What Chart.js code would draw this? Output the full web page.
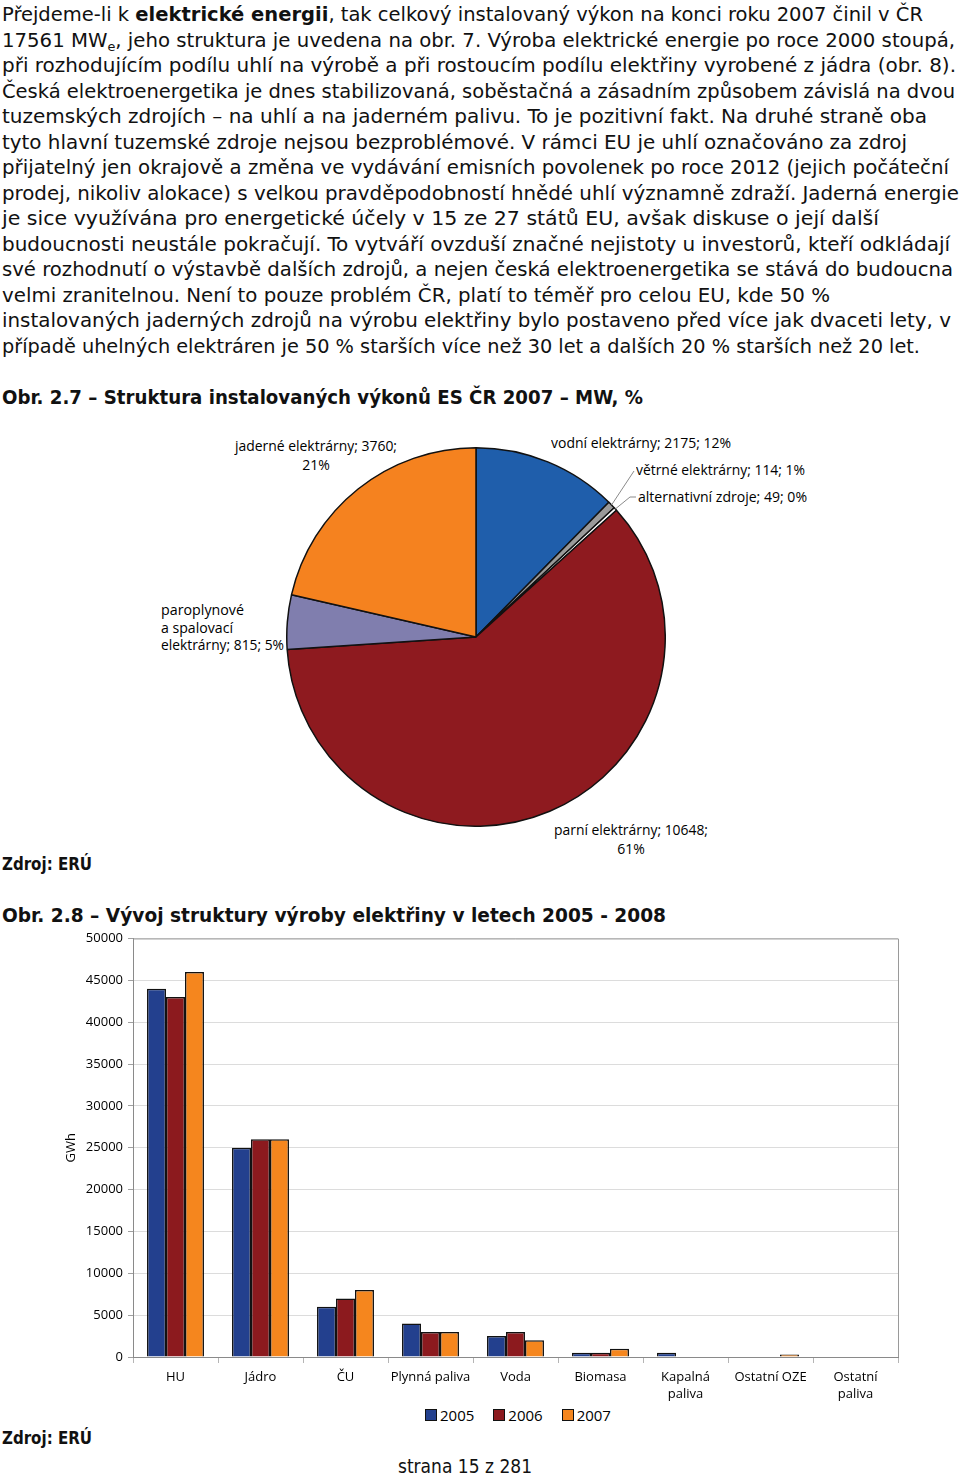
<!DOCTYPE html>
<html><head><meta charset="utf-8">
<script src="https://cdn.jsdelivr.net/npm/chart.js@4.4.1/dist/chart.umd.min.js"></script>
<style>
html,body{margin:0;padding:0;background:#fff;}
body{width:960px;height:1475px;position:relative;overflow:hidden;font-family:"DejaVu Sans Condensed","DejaVu Sans",sans-serif;color:#111;}
.t{position:absolute;white-space:nowrap;transform-origin:0 50%;line-height:1;}
.body{font-size:20px;}
.b{font-weight:bold;}
.lbl{font-family:"Open Sans",sans-serif;font-size:14px;color:#000;}
canvas{position:absolute;}
#legend{position:absolute;left:425px;top:1406px;display:flex;align-items:center;font-family:"Open Sans",sans-serif;font-size:15px;line-height:18px;color:#000;}
#legend .it{display:flex;align-items:center;margin-right:19px;}
#legend .bx{width:10px;height:10px;border:1px solid #111;margin-right:3px;}
</style></head><body>

<div class="t body" data-x0="2" data-x1="923" data-y="14">Přejdeme-li k <b>elektrické energii</b>, tak celkový instalovaný výkon na konci roku 2007 činil v ČR</div>
<div class="t body" data-x0="2" data-x1="955" data-y="40">17561 MW<span style="font-size:13px;position:relative;top:4px">e</span>, jeho struktura je uvedena na obr. 7. Výroba elektrické energie po roce 2000 stoupá,</div>
<div class="t body" data-x0="2" data-x1="956" data-y="65">při rozhodujícím podílu uhlí na výrobě a při rostoucím podílu elektřiny vyrobené z jádra (obr. 8).</div>
<div class="t body" data-x0="2" data-x1="955" data-y="91">Česká elektroenergetika je dnes stabilizovaná, soběstačná a zásadním způsobem závislá na dvou</div>
<div class="t body" data-x0="2" data-x1="927" data-y="116">tuzemských zdrojích – na uhlí a na jaderném palivu. To je pozitivní fakt. Na druhé straně oba</div>
<div class="t body" data-x0="2" data-x1="907" data-y="142">tyto hlavní tuzemské zdroje nejsou bezproblémové. V rámci EU je uhlí označováno za zdroj</div>
<div class="t body" data-x0="2" data-x1="949" data-y="167">přijatelný jen okrajově a změna ve vydávání emisních povolenek po roce 2012 (jejich počáteční</div>
<div class="t body" data-x0="2" data-x1="959" data-y="193">prodej, nikoliv alokace) s velkou pravděpodobností hnědé uhlí významně zdraží. Jaderná energie</div>
<div class="t body" data-x0="2" data-x1="879" data-y="218">je sice využívána pro energetické účely v 15 ze 27 států EU, avšak diskuse o její další</div>
<div class="t body" data-x0="2" data-x1="950" data-y="244">budoucnosti neustále pokračují. To vytváří ovzduší značné nejistoty u investorů, kteří odkládají</div>
<div class="t body" data-x0="2" data-x1="953" data-y="269">své rozhodnutí o výstavbě dalších zdrojů, a nejen česká elektroenergetika se stává do budoucna</div>
<div class="t body" data-x0="2" data-x1="830" data-y="295">velmi zranitelnou. Není to pouze problém ČR, platí to téměř pro celou EU, kde 50 %</div>
<div class="t body" data-x0="2" data-x1="951" data-y="320">instalovaných jaderných zdrojů na výrobu elektřiny bylo postaveno před více jak dvaceti lety, v</div>
<div class="t body" data-x0="2" data-x1="920" data-y="346">případě uhelných elektráren je 50 % starších více než 30 let a dalších 20 % starších než 20 let.</div>

<div class="t body b" data-x0="2" data-x1="643" data-y="397">Obr. 2.7 – Struktura instalovaných výkonů ES ČR 2007 – MW, %</div>

<div class="t lbl" data-x0="235" data-x1="397" data-y="446">jaderné elektrárny; 3760;</div>
<div class="t lbl" data-cx="316" data-y="465">21%</div>
<div class="t lbl" data-x0="551" data-x1="731" data-y="443">vodní elektrárny; 2175; 12%</div>
<div class="t lbl" data-x0="636" data-x1="805" data-y="470">větrné elektrárny; 114; 1%</div>
<div class="t lbl" data-x0="638" data-x1="807" data-y="497">alternativní zdroje; 49; 0%</div>
<div class="t lbl" data-x0="161" data-x1="244" data-y="610">paroplynové</div>
<div class="t lbl" data-x0="161" data-x1="233" data-y="628">a spalovací</div>
<div class="t lbl" data-x0="161" data-x1="284" data-y="645">elektrárny; 815; 5%</div>
<div class="t lbl" data-x0="554" data-x1="708" data-y="830">parní elektrárny; 10648;</div>
<div class="t lbl" data-cx="631" data-y="849">61%</div>

<div class="t b" style="font-size:18px" data-x0="2" data-x1="92" data-y="864">Zdroj: ERÚ</div>
<div class="t body b" data-x0="2" data-x1="666" data-y="915">Obr. 2.8 – Vývoj struktury výroby elektřiny v letech 2005 - 2008</div>

<canvas id="pie" width="380" height="380" style="left:286px;top:447px;width:380px;height:380px"></canvas>
<canvas id="bar" width="960" height="480" style="left:0;top:925px;width:960px;height:480px"></canvas>
<div id="legend"></div>

<div class="t b" style="font-size:18px" data-x0="2" data-x1="92" data-y="1438">Zdroj: ERÚ</div>
<div class="t" style="font-size:19px" data-x0="398" data-x1="532" data-y="1466">strana 15 z 281</div>

<script>
// ---- Pie data (Obr. 2.7) ----
const pieCategories = ['vodní elektrárny','větrné elektrárny','alternativní zdroje','parní elektrárny','paroplynové a spalovací elektrárny','jaderné elektrárny'];
const pieValues = [2175, 114, 49, 10648, 815, 3760];
const pieColors = ['#1f5eab','#9a9a9a','#ffffff','#8e1a1f','#807eae','#f5821f'];

// ---- Bar data (Obr. 2.8) ----
const barCategories = ['HU','Jádro','ČU','Plynná paliva','Voda','Biomasa',['Kapalná','paliva'],'Ostatní OZE',['Ostatní','paliva']];
const seriesNames = ['2005','2006','2007'];
const values2005 = [44000, 25000, 6000, 4000, 2500, 500, 500, 0, 0];
const values2006 = [43000, 26000, 7000, 3000, 3000, 500, 0, 0, 0];
const values2007 = [46000, 26000, 8000, 3000, 2000, 1000, 0, 300, 0];
const seriesColors = ['#23408e','#8c1a1e','#f5861e'];
const yTicks = {min: 0, max: 50000, step: 5000};

// ---- place text ----
document.querySelectorAll('.t').forEach(el => {
  const r = el.getBoundingClientRect();
  const w = r.width, h = r.height;
  const y = +el.dataset.y;
  el.style.top = (y - h / 2) + 'px';
  if (el.dataset.cx) {
    el.style.left = (+el.dataset.cx - w / 2) + 'px';
  } else {
    const x0 = +el.dataset.x0, x1 = +el.dataset.x1;
    el.style.left = x0 + 'px';
    if (x1) el.style.transform = 'scaleX(' + ((x1 - x0) / w) + ')';
  }
});

// ---- pie ----
const pieLeft = 286, pieTop = 447;
const leaders = [
  {i: 1, pts: [[634, 471]]},
  {i: 2, pts: [[630, 497], [636, 497]]}
];
const leaderPlugin = {
  id: 'leaders',
  afterDatasetsDraw(chart) {
    const meta = chart.getDatasetMeta(0);
    const ctx = chart.ctx;
    ctx.save();
    ctx.strokeStyle = '#8a8a8a';
    ctx.lineWidth = 1;
    leaders.forEach(L => {
      const arc = meta.data[L.i];
      const a = (arc.startAngle + arc.endAngle) / 2;
      ctx.beginPath();
      ctx.moveTo(arc.x + Math.cos(a) * arc.outerRadius, arc.y + Math.sin(a) * arc.outerRadius);
      L.pts.forEach(p => ctx.lineTo(p[0] - pieLeft, p[1] - pieTop));
      ctx.stroke();
    });
    ctx.restore();
  }
};
new Chart(document.getElementById('pie'), {
  type: 'pie',
  data: {labels: pieCategories, datasets: [{data: pieValues, backgroundColor: pieColors, borderColor: '#111', borderWidth: 1.5, hoverBorderWidth: 1.5, hoverOffset: 0, offset: 0}]},
  options: {
    responsive: false, animation: false, events: [],
    layout: {padding: 0},
    plugins: {legend: {display: false}, tooltip: {enabled: false}}
  },
  plugins: [leaderPlugin]
});

// ---- bar ----
const frame = {
  id: 'frame',
  afterDatasetsDraw(chart) {
    const {ctx, chartArea: a} = chart;
    ctx.save();
    ctx.strokeStyle = '#9a9a9a';
    ctx.lineWidth = 1;
    ctx.beginPath();
    ctx.moveTo(a.left, a.top + 0.5); ctx.lineTo(a.right + 0.5, a.top + 0.5); ctx.lineTo(a.right + 0.5, a.bottom);
    ctx.stroke();
    ctx.restore();
  }
};
const allSeries = [values2005, values2006, values2007];
const tickFont = {family: 'Open Sans', size: 13, lineHeight: 1.3};
new Chart(document.getElementById('bar'), {
  type: 'bar',
  data: {
    labels: barCategories,
    datasets: seriesNames.map((n, k) => ({
      label: n,
      data: allSeries[k].map(v => v === 0 ? null : v),
      backgroundColor: seriesColors[k],
      borderColor: '#111',
      borderWidth: 1.5,
      categoryPercentage: 0.67,
      barPercentage: 1.0
    }))
  },
  options: {
    responsive: false, animation: false, events: [],
    layout: {padding: {top: 10, right: 62, left: 0, bottom: 0}},
    plugins: {legend: {display: false}, tooltip: {enabled: false}},
    scales: {
      x: {
        ticks: {font: tickFont, color: '#000', padding: 6, maxRotation: 0, autoSkip: false},
        grid: {drawOnChartArea: false, drawTicks: true, tickLength: 6, color: '#b5b5b5', offset: true},
        border: {color: '#8a8a8a', width: 1},
        afterFit(s) { s.height = 48; }
      },
      y: {
        min: yTicks.min, max: yTicks.max,
        ticks: {stepSize: yTicks.step, font: tickFont, color: '#000', padding: 5, callback: v => String(v)},
        grid: {color: '#dcdcdc', tickLength: 5, tickColor: '#a0a0a0'},
        border: {color: '#8a8a8a', width: 1},
        title: {display: true, text: 'GWh', font: {family: 'Open Sans', size: 13}, color: '#000', padding: {top: 63, bottom: 0}},
        afterFit(s) { s.width = 133; }
      }
    }
  },
  plugins: [frame]
});

// ---- legend ----
const lg = document.getElementById('legend');
seriesNames.forEach((n, k) => {
  const it = document.createElement('div'); it.className = 'it';
  const bx = document.createElement('div'); bx.className = 'bx'; bx.style.background = seriesColors[k];
  const tx = document.createElement('span'); tx.textContent = n;
  it.appendChild(bx); it.appendChild(tx); lg.appendChild(it);
});
</script>
</body></html>
